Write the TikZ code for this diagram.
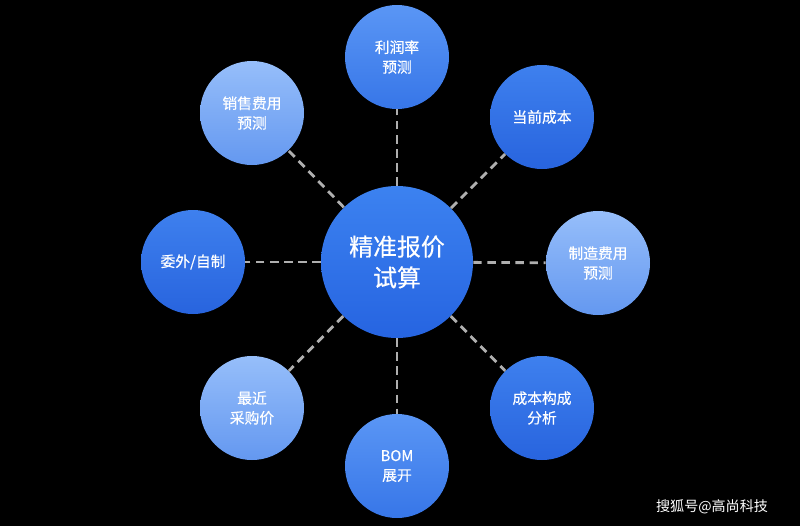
\documentclass[tikz,border=0pt]{standalone}
\usepackage{fontspec}
\setmainfont{Noto Sans CJK SC}
\newfontfamily\medfont{Noto Sans CJK SC}[FakeBold=0.5]
\begin{document}
\begin{tikzpicture}[x=0.025cm,y=-0.025cm,
 sat/.style={circle,minimum size=104*0.025cm,inner sep=0pt,text=white,font=\medfont\fontsize{10.5}{14}\selectfont,align=center},
 dk/.style={sat,top color={rgb,255:red,62;green,128;blue,238},bottom color={rgb,255:red,40;green,100;blue,222}},
 md/.style={sat,top color={rgb,255:red,90;green,150;blue,245},bottom color={rgb,255:red,55;green,118;blue,232}},
 lt/.style={sat,top color={rgb,255:red,150;green,190;blue,250},bottom color={rgb,255:red,100;green,152;blue,240}},
 con/.style={draw={rgb,255:red,175;green,175;blue,175},line width=2pt,dash pattern=on 6pt off 4pt}]
\fill[black] (0,0) rectangle (800,526);
\node[circle,minimum size=152*0.025cm,inner sep=0pt,text=white,font=\medfont\fontsize{17}{22}\selectfont,align=center,top color={rgb,255:red,60;green,130;blue,240},bottom color={rgb,255:red,38;green,100;blue,225}] (c) at (397,262) {精准报价\\试算};
\node[md] (a) at (397,57) {利润率\\预测};
\node[dk] (b) at (542,117) {当前成本};
\node[lt] (d) at (598,263) {制造费用\\预测};
\node[dk] (e) at (542,408) {成本构成\\分析};
\node[md] (f) at (397,466) {BOM\\展开};
\node[lt] (g) at (252,408) {最近\\采购价};
\node[dk] (h) at (193,262) {委外/自制};
\node[lt] (i) at (252,113) {销售费用\\预测};
\foreach \n in {a,b,d,e,f,g,h,i} \draw[con] (c) -- (\n);
\node[text=white,font=\fontsize{10}{12}\selectfont] (w) at (712,507) {搜狐号@高尚科技};
\end{tikzpicture}
\end{document}
